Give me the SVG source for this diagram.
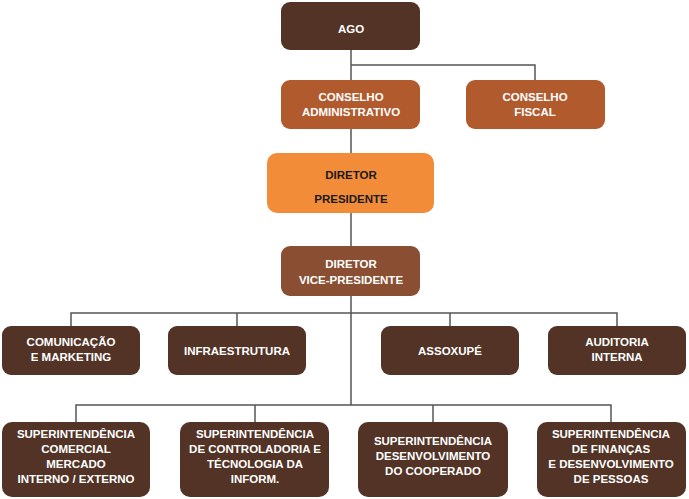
<svg xmlns="http://www.w3.org/2000/svg" width="689" height="499" viewBox="0 0 689 499">
<style>
text{font-family:"Liberation Sans",Arial,sans-serif;font-weight:bold;text-anchor:middle;fill:#fff;font-size:11.5px}
.dk{fill:#523326}
.ln{stroke:#555;stroke-width:1.5;fill:none}
</style>
<rect width="689" height="499" fill="#fff"/>
<g id="connectors" class="ln">
<path d="M351 50V80M351 65H535V80M351 129V153M351 213V246M351 296V405M71 326V313H617V326M237 313V326M450 313V326M76 422V405H611V422M255 405V422M433 405V422"/>
</g>
<g id="ago"><rect x="281" y="2" width="139" height="48" rx="9" class="dk"/><text x="351" y="33" font-size="19">AGO</text></g>
<g id="ca"><rect x="281" y="80" width="139" height="49" rx="9" fill="#b05a2e"/><text x="351" y="101">CONSELHO</text><text x="351" y="116">ADMINISTRATIVO</text></g>
<g id="cf"><rect x="466" y="80" width="139" height="49" rx="9" fill="#b05a2e"/><text x="535" y="101">CONSELHO</text><text x="535" y="116">FISCAL</text></g>
<g id="dp"><rect x="267" y="153" width="167" height="60" rx="10" fill="#f28c38"/><text x="351" y="179" font-size="19" style="fill:#1a1a1a">DIRETOR</text><text x="351" y="203" font-size="19" style="fill:#1a1a1a">PRESIDENTE</text></g>
<g id="vp"><rect x="281" y="246" width="139" height="50" rx="9" fill="#8a4f33"/><text x="351" y="268">DIRETOR</text><text x="351" y="284">VICE-PRESIDENTE</text></g>
<g id="com"><rect x="2" y="326" width="138" height="49" rx="9" class="dk"/><text x="71" y="346">COMUNICAÇÃO</text><text x="71" y="361">E MARKETING</text></g>
<g id="infra"><rect x="168" y="326" width="138" height="49" rx="9" class="dk"/><text x="237" y="355">INFRAESTRUTURA</text></g>
<g id="assox"><rect x="381" y="326" width="138" height="49" rx="9" class="dk"/><text x="450" y="355">ASSOXUPÉ</text></g>
<g id="aud"><rect x="548" y="326" width="138" height="49" rx="9" class="dk"/><text x="617" y="346">AUDITORIA</text><text x="617" y="361">INTERNA</text></g>
<g id="s1"><rect x="2" y="422" width="148" height="75" rx="10" class="dk"/><text x="76" y="438">SUPERINTENDÊNCIA</text><text x="76" y="453">COMERCIAL</text><text x="76" y="468">MERCADO</text><text x="76" y="483">INTERNO / EXTERNO</text></g>
<g id="s2"><rect x="180" y="422" width="149" height="75" rx="10" class="dk"/><text x="255" y="438">SUPERINTENDÊNCIA</text><text x="255" y="453">DE CONTROLADORIA E</text><text x="255" y="468">TÉCNOLOGIA DA</text><text x="255" y="483">INFORM.</text></g>
<g id="s3"><rect x="358" y="422" width="150" height="75" rx="10" class="dk"/><text x="433" y="445">SUPERINTENDÊNCIA</text><text x="433" y="460">DESENVOLVIMENTO</text><text x="433" y="475">DO COOPERADO</text></g>
<g id="s4"><rect x="537" y="422" width="149" height="75" rx="10" class="dk"/><text x="611" y="438">SUPERINTENDÊNCIA</text><text x="611" y="453">DE FINANÇAS</text><text x="611" y="468">E DESENVOLVIMENTO</text><text x="611" y="483">DE PESSOAS</text></g>
</svg>
